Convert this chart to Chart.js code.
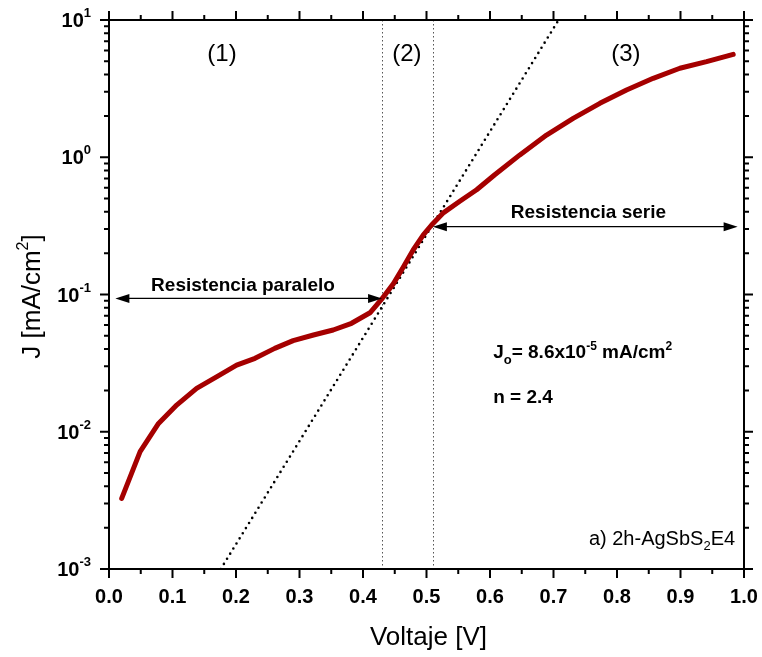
<!DOCTYPE html>
<html><head><meta charset="utf-8">
<script src="https://cdn.jsdelivr.net/npm/chart.js@4/dist/chart.umd.min.js"></script>
<style>html,body{margin:0;padding:0;background:#fff;}#wrap{width:762px;height:657px;}</style>
</head><body><div id="wrap"><canvas id="c" width="762" height="657"></canvas></div>
<script>
// ---- data ----
const voltage = [0.020, 0.049, 0.078, 0.107, 0.138, 0.170, 0.201, 0.230, 0.261, 0.290, 0.322, 0.353, 0.382, 0.411, 0.429, 0.448, 0.464, 0.479, 0.495, 0.508, 0.527, 0.553, 0.579, 0.607, 0.647, 0.689, 0.731, 0.773, 0.815, 0.857, 0.899, 0.941, 0.983];
const currentDensity = [0.00327, 0.00716, 0.0115, 0.0157, 0.0207, 0.0252, 0.0306, 0.0343, 0.0405, 0.0461, 0.0507, 0.0551, 0.0617, 0.0736, 0.092, 0.120, 0.160, 0.211, 0.272, 0.321, 0.395, 0.48, 0.58, 0.743, 1.04, 1.45, 1.92, 2.47, 3.09, 3.76, 4.45, 4.97, 5.62];
const fitVoltage = [0.176, 0.708];
const fitCurrent = [0.001, 10];
const regionBounds = [0.43, 0.51];
const regionLabels = ['(1)', '(2)', '(3)'];
const xTickValues = [0, 0.1, 0.2, 0.3, 0.4, 0.5, 0.6, 0.7, 0.8, 0.9, 1.0];
const xTickLabels = ['0.0', '0.1', '0.2', '0.3', '0.4', '0.5', '0.6', '0.7', '0.8', '0.9', '1.0'];
const yDecades = [-3, -2, -1, 0, 1];
const parallelArrow = { from: 0.01, to: 0.43, j: 0.0937, text: 'Resistencia paralelo' };
const seriesArrow = { from: 0.51, to: 0.99, j: 0.312, text: 'Resistencia serie' };

// ---- layout / style ----
const FONT = '"Liberation Sans", Arial, sans-serif';
const regionLabelPos = [0.178, 0.469, 0.814];
function fnt(p) { return (p.bold ? 'bold ' : '') + p.size + 'px ' + FONT; }
function drawRich(ctx, parts, x, y, align) {
  let total = 0;
  parts.forEach(p => { ctx.font = fnt(p); p.w = ctx.measureText(p.t).width; total += p.w; });
  let cx = align === 'right' ? x - total : (align === 'center' ? x - total / 2 : x);
  ctx.textAlign = 'left'; ctx.textBaseline = 'alphabetic';
  parts.forEach(p => { ctx.font = fnt(p); ctx.fillText(p.t, cx, y + (p.dy || 0)); cx += p.w; });
}
function arrowHead(ctx, x, y, dir) {
  ctx.beginPath();
  ctx.moveTo(x, y);
  ctx.lineTo(x - dir * 14, y - 4.5);
  ctx.lineTo(x - dir * 14, y + 4.5);
  ctx.closePath(); ctx.fill();
}
function drawArrow(ctx, xs, ys, a) {
  const x1 = xs.getPixelForValue(a.from), x2 = xs.getPixelForValue(a.to), y = ys.getPixelForValue(a.j);
  ctx.strokeStyle = '#000'; ctx.fillStyle = '#000'; ctx.lineWidth = 1.2;
  ctx.beginPath(); ctx.moveTo(x1 + 4, y); ctx.lineTo(x2 - 4, y); ctx.stroke();
  arrowHead(ctx, x1, y, -1); arrowHead(ctx, x2, y, 1);
  return { x1, x2, y };
}

const decor = {
  id: 'decor',
  beforeDatasetsDraw(chart) {
    const ctx = chart.ctx, xs = chart.scales.x, a = chart.chartArea;
    ctx.save();
    ctx.strokeStyle = '#555'; ctx.lineWidth = 1; ctx.setLineDash([1.5, 2.5]);
    regionBounds.forEach(v => {
      const px = Math.round(xs.getPixelForValue(v)) + 0.5;
      ctx.beginPath(); ctx.moveTo(px, a.top); ctx.lineTo(px, a.bottom); ctx.stroke();
    });
    ctx.restore();
  },
  afterDraw(chart) {
    const ctx = chart.ctx, xs = chart.scales.x, ys = chart.scales.y, a = chart.chartArea;
    ctx.save();
    ctx.fillStyle = '#000'; ctx.strokeStyle = '#000';
    // frame
    ctx.lineWidth = 2;
    ctx.strokeRect(a.left, a.top, a.right - a.left, a.bottom - a.top);
    // x ticks
    ctx.lineWidth = 2;
    for (let i = 0; i <= 20; i++) {
      const v = i / 20, px = xs.getPixelForValue(v), len = (i % 2 === 0) ? 9 : 5;
      ctx.beginPath();
      ctx.moveTo(px, a.bottom); ctx.lineTo(px, a.bottom + len);
      ctx.moveTo(px, a.top); ctx.lineTo(px, a.top - len);
      ctx.stroke();
    }
    // y ticks
    yDecades.forEach(d => {
      for (let m = 1; m <= 9; m++) {
        const val = m * Math.pow(10, d);
        if (val > 10.0001) break;
        const py = ys.getPixelForValue(val), len = m === 1 ? 9 : 5;
        ctx.beginPath();
        ctx.moveTo(a.left, py); ctx.lineTo(a.left - len, py);
        ctx.moveTo(a.right, py); ctx.lineTo(a.right + len, py);
        ctx.stroke();
      }
    });
    // x tick labels
    ctx.font = 'bold 20px ' + FONT; ctx.textAlign = 'center'; ctx.textBaseline = 'alphabetic';
    xTickValues.forEach((v, i) => ctx.fillText(xTickLabels[i], xs.getPixelForValue(v), a.bottom + 34));
    // y tick labels
    yDecades.forEach(d => {
      const py = ys.getPixelForValue(Math.pow(10, d));
      drawRich(ctx, [{ t: '10', size: 20, bold: true }, { t: String(d), size: 13, bold: true, dy: -10 }], 91, py + 7, 'right');
    });
    // axis titles
    drawRich(ctx, [{ t: 'Voltaje [V]', size: 26 }], (a.left + a.right) / 2 + 2, 645, 'center');
    ctx.save();
    ctx.translate(40, (a.top + a.bottom) / 2 + 2);
    ctx.rotate(-Math.PI / 2);
    drawRich(ctx, [{ t: 'J [mA/cm', size: 26 }, { t: '2', size: 16, dy: -12 }, { t: ']', size: 26 }], 0, 0, 'center');
    ctx.restore();
    // region labels
    regionLabels.forEach((t, i) => drawRich(ctx, [{ t, size: 24 }], xs.getPixelForValue(regionLabelPos[i]), 61, 'center'));
    // arrows
    const p1 = drawArrow(ctx, xs, ys, parallelArrow);
    drawRich(ctx, [{ t: parallelArrow.text, size: 19, bold: true }], xs.getPixelForValue(0.211), p1.y - 7, 'center');
    const p2 = drawArrow(ctx, xs, ys, seriesArrow);
    drawRich(ctx, [{ t: seriesArrow.text, size: 19, bold: true }], xs.getPixelForValue(0.755), p2.y - 9, 'center');
    // fit parameters
    const tx = xs.getPixelForValue(0.605);
    drawRich(ctx, [{ t: 'J', size: 19, bold: true }, { t: 'o', size: 13, bold: true, dy: 6 }, { t: '= 8.6x10', size: 19, bold: true },
      { t: '-5', size: 12, bold: true, dy: -8 }, { t: ' mA/cm', size: 19, bold: true }, { t: '2', size: 12, bold: true, dy: -8 }], tx, 358, 'left');
    drawRich(ctx, [{ t: 'n = 2.4', size: 19, bold: true }], tx, 403, 'left');
    // sample label
    drawRich(ctx, [{ t: 'a) 2h-AgSbS', size: 20 }, { t: '2', size: 13, dy: 5 }, { t: 'E4', size: 20 }], xs.getPixelForValue(0.986), 545, 'right');
    ctx.restore();
  }
};

new Chart(document.getElementById('c'), {
  type: 'line',
  data: {
    datasets: [
      {
        label: 'fit', data: fitVoltage.map((v, i) => ({ x: v, y: fitCurrent[i] })),
        borderColor: '#000', borderWidth: 2.6, borderDash: [0, 6], borderCapStyle: 'round',
        pointRadius: 0, fill: false, tension: 0, order: 2
      },
      {
        label: 'J-V', data: voltage.map((v, i) => ({ x: v, y: currentDensity[i] })),
        borderColor: '#a50000', borderWidth: 5, borderJoinStyle: 'round', borderCapStyle: 'round',
        pointRadius: 0, fill: false, tension: 0, order: 1
      }
    ]
  },
  options: {
    responsive: false, animation: false, devicePixelRatio: 1,
    layout: { padding: { left: 109, right: 18, top: 20, bottom: 88 } },
    plugins: { legend: { display: false }, tooltip: { enabled: false }, title: { display: false } },
    scales: {
      x: { type: 'linear', min: 0, max: 1, display: false },
      y: { type: 'logarithmic', min: 0.001, max: 10, display: false }
    }
  },
  plugins: [decor]
});
</script>
</body></html>
